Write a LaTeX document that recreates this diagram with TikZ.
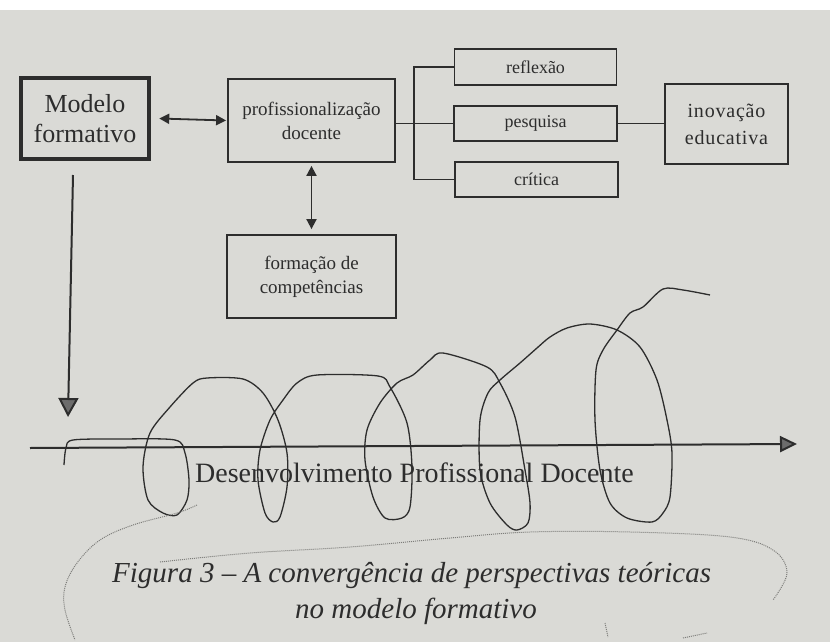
\documentclass[tikz,border=0pt]{standalone}
\usepackage{fontspec}
\setmainfont{Liberation Serif}
\usetikzlibrary{arrows.meta}
\definecolor{paper}{RGB}{218,218,214}
\definecolor{ink}{RGB}{45,45,45}
\definecolor{pencil}{RGB}{125,125,122}
\tikzset{
  box/.style={draw=ink, line width=1.8pt, align=center, inner sep=0pt, text=ink,
              font=\fontsize{19}{24}\selectfont},
  smallbox/.style={box, font=\fontsize{18}{22}\selectfont},
  thickbox/.style={box, line width=4.5pt, font=\fontsize{26}{30}\selectfont},
  link/.style={draw=ink, line width=1.8pt},
  dblarrow/.style={link, {Triangle[length=10pt,width=10pt]}-{Triangle[length=10pt,width=10pt]}},
  bigarrow/.style={link, line width=2pt, -{Triangle[length=19pt,width=20pt,fill=ink!70]}},
  axisarrow/.style={link, line width=2pt, -{Triangle[length=17pt,width=16pt,fill=ink!70]}},
  hand/.style={draw=ink, line width=1.3pt, line join=round},
  pencilmark/.style={draw=pencil, line width=1pt, densely dotted},
}
\begin{document}
\begin{tikzpicture}[x=1pt,y=-1pt]
\fill[paper] (0,0) rectangle (830,642);
\fill[white] (0,0) rectangle (830,10);
\useasboundingbox (0,0) rectangle (830,642);

% boxes
\node[thickbox, minimum width=128pt, minimum height=81pt] (modelo) at (85,118.5) {Modelo\\formativo};
\node[box, minimum width=167pt, minimum height=83pt] (prof) at (311.5,120.5) {profissionalização\\docente};
\node[box, minimum width=169pt, minimum height=83pt] (form) at (311.5,276.5) {formação de\\competências};
\node[smallbox, minimum width=162pt, minimum height=36pt] (refl) at (535.5,67) {reflexão};
\node[smallbox, minimum width=163pt, minimum height=35pt] (pes) at (535.5,123.5) {pesquisa};
\node[smallbox, minimum width=163pt, minimum height=35pt] (crit) at (536.5,179.5) {crítica};
\node[box, minimum width=123pt, minimum height=80pt, font=\fontsize{20}{27}\selectfont\addfontfeatures{LetterSpace=4}] (inov) at (726.5,124) {inovação\\educativa};

% connectors
\coordinate (mR) at ([xshift=8pt]modelo.east);
\coordinate (pL) at ([xshift=-1pt]prof.west);
\draw[dblarrow] (mR) -- (pL);
\draw[dblarrow] ([yshift=-3pt]prof.south) -- ([yshift=5pt]form.north);
\coordinate (bx) at (414,123.5);
\draw[link] (prof.east |- pes.west) -- (pes.west);
\draw[link] (refl.west) -| (bx) |- (crit.west);
\draw[link] (pes.east) -- (inov.west |- pes.east);

% left arrow and axis
\coordinate (a1) at (73,175);
\coordinate (a2) at (68,417);
\draw[bigarrow] (a1) -- (a2);
\coordinate (ax1) at (30,448);
\coordinate (ax2) at (797,444);
\draw[axisarrow] (ax1) -- (ax2);

\node[anchor=base west, inner sep=0pt, text=ink, font=\fontsize{28}{30}\selectfont] (dpd) at (195,482) {Desenvolvimento Profissional Docente};

% hand-drawn spiral
\draw[hand] plot[smooth, tension=0.5] coordinates {
(64,465) (66,448) (73,440) (120,439) (175,440) (185,453) (189,480) (187,500)
(177,515) (163,513) (148,500) (143,467) (150,433) (170,407) (193,383) (207,378)
(243,379) (263,393) (278,420) (287,453) (287,487) (280,517) (273,522) (265,513)
(258,480) (260,450) (270,420) (283,400) (297,383) (317,375) (378,376) (390,387)
(407,423) (412,467) (410,507) (402,518) (385,518) (373,497) (365,460) (367,430)
(380,403) (397,383) (413,375) (430,360) (443,353) (487,367) (500,383) (515,417)
(525,470) (530,503) (528,523) (517,530) (507,525) (490,503) (480,470) (480,420)
(488,393) (500,380) (520,363) (537,348) (550,337) (567,328) (590,324) (617,330)
(640,347) (657,380) (667,420) (672,453) (670,497) (663,513) (652,522) (627,518)
(610,503) (600,470) (595,420) (596,370) (603,350) (617,330) (630,313) (643,307)
(663,289) (683,290) (710,295)};

% pencil marks around the caption
\draw[pencilmark] plot[smooth, tension=0.6] coordinates {(197,505) (177,513) (133,525) (100,540) (77,563) (65,587) (65,610) (75,640)};
\draw[pencilmark] plot[smooth, tension=0.6] coordinates {(160,562) (250,553) (350,547) (450,538) (530,532) (630,532) (730,537) (773,550) (787,573) (773,600)};
\draw[pencilmark] (605,623) -- (608,637);
\draw[pencilmark] (683,638) -- (707,633);

% caption
\node[anchor=base west, inner sep=0pt, text=ink, font=\fontsize{29}{36}\selectfont\itshape] (cap1) at (112,582) {Figura 3 – A convergência de perspectivas teóricas};
\node[anchor=base west, inner sep=0pt, text=ink, font=\fontsize{29}{36}\selectfont\itshape] (cap2) at (295,618) {no modelo formativo};
\end{tikzpicture}
\end{document}
